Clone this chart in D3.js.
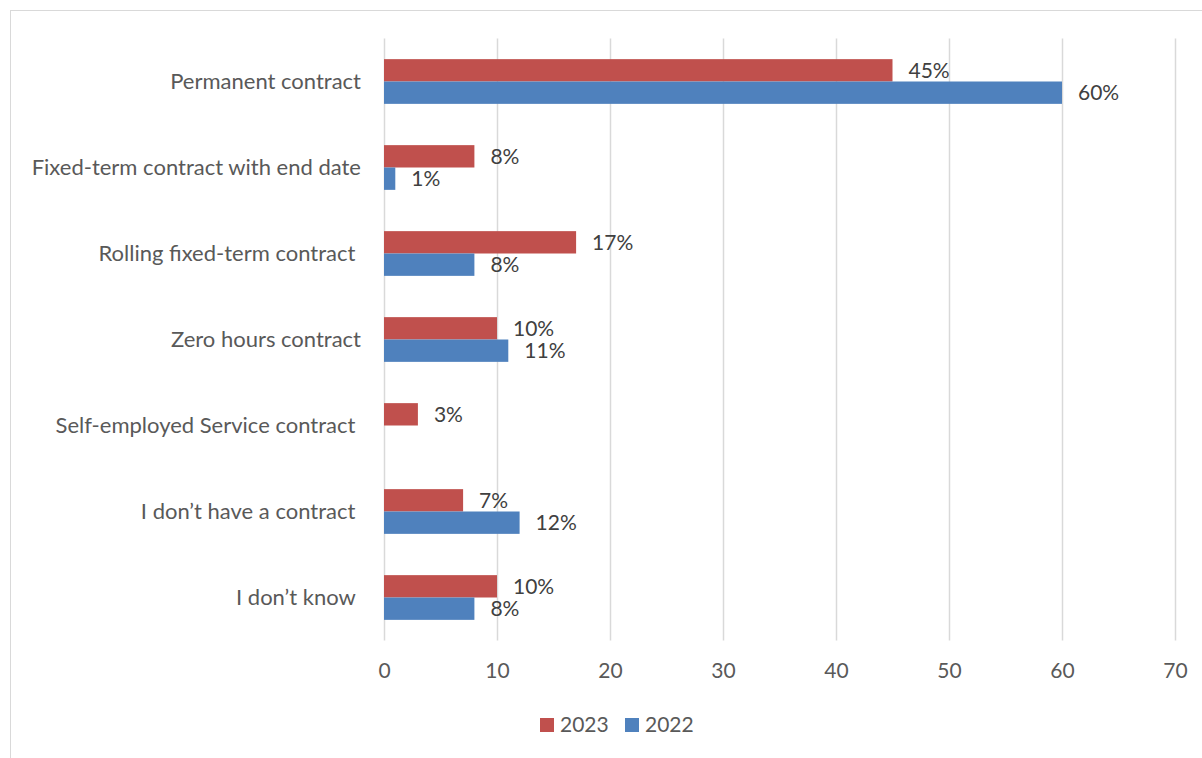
<!DOCTYPE html>
<html>
<head>
<meta charset="utf-8">
<script src="https://cdn.jsdelivr.net/npm/d3@7"></script>
<style>
  body { margin: 0; background: #fff; }
  text { font-family: Lato, "Open Sans", sans-serif; }
</style>
</head>
<body>
<div id="chart"></div>
<script>
// Data
var categories = [
    "Permanent contract",
    "Fixed-term contract with end date",
    "Rolling fixed-term contract ",
    "Zero hours contract",
    "Self-employed Service contract ",
    "I don\u2019t have a contract ",
    "I don\u2019t know "
];
var seriesNames = ["2023", "2022"];
var values2023 = [45, 8, 17, 10, 3, 7, 10];
var values2022 = [60, 1, 8, 11, null, 12, 8];
var tickValues = [0, 10, 20, 30, 40, 50, 60, 70];

var colors = {"2023": "#C0504D", "2022": "#4F81BD"};

// Sizes
var width = 1202, height = 758;
var plot = {left: 384, right: 1175, top: 38.5, bottom: 640.5};

var svg = d3.select("#chart")
    .append("svg")
        .attr("width", width)
        .attr("height", height);

// Outer border
svg.append("rect")
    .attr("x", 10.5)
    .attr("y", 10.5)
    .attr("width", 1200)
    .attr("height", 760)
    .attr("fill", "none")
    .attr("stroke", "#d9d9d9");

// Scales
var x = d3.scaleLinear()
    .domain([0, 70])
    .range([plot.left, plot.right]);

var y = d3.scaleBand()
    .domain(categories)
    .range([plot.top, plot.bottom])
    .paddingInner(0.48)
    .paddingOuter(0.24);

var y1 = d3.scaleBand()
    .domain(seriesNames)
    .range([0, y.bandwidth()]);

// Gridlines
svg.append("g")
    .selectAll("line")
    .data(tickValues)
    .join("line")
        .attr("x1", d => Math.round(x(d)) + 0.5)
        .attr("x2", d => Math.round(x(d)) + 0.5)
        .attr("y1", plot.top)
        .attr("y2", plot.bottom)
        .attr("stroke", "#d9d9d9")
        .attr("stroke-width", 1.5);

// X axis tick labels
var xAxis = svg.append("g")
    .attr("transform", "translate(0," + (plot.bottom + 23) + ")")
    .call(d3.axisBottom(x).tickValues(tickValues).tickSize(0).tickPadding(0));
xAxis.select(".domain").remove();
xAxis.selectAll("text")
    .attr("dy", "0.71em")
    .style("font-size", "21px")
    .attr("fill", "#595959");

// Y axis category labels
var yAxis = svg.append("g")
    .attr("transform", "translate(" + (plot.left - 23) + ",0)")
    .call(d3.axisLeft(y).tickSize(0).tickPadding(0));
yAxis.select(".domain").remove();
yAxis.selectAll("text")
    .style("font-size", "22px")
    .style("white-space", "pre")
    .attr("fill", "#595959");

// Bars
var rows = categories.map((c, i) => ({
    cat: c,
    items: [
        {key: "2023", value: values2023[i]},
        {key: "2022", value: values2022[i]}
    ].filter(d => d.value != null)
}));

var groups = svg.append("g")
    .selectAll("g")
    .data(rows)
    .join("g")
        .attr("transform", d => "translate(0," + y(d.cat) + ")");

groups.selectAll("rect")
    .data(d => d.items)
    .join("rect")
        .attr("x", x(0))
        .attr("y", d => y1(d.key))
        .attr("width", d => x(d.value) - x(0))
        .attr("height", y1.bandwidth())
        .attr("fill", d => colors[d.key]);

groups.selectAll("text")
    .data(d => d.items)
    .join("text")
        .attr("x", d => x(d.value) + 16)
        .attr("y", d => y1(d.key) + y1.bandwidth() / 2)
        .attr("dy", "0.35em")
        .style("font-size", "21px")
        .attr("fill", "#404040")
        .text(d => d.value + "%");

// Legend
var legend = svg.append("g")
    .selectAll("g")
    .data(seriesNames)
    .join("g")
        .attr("transform", (d, i) => "translate(" + (540 + i * 85) + ",718)");

legend.append("rect")
    .attr("width", 14)
    .attr("height", 14)
    .attr("fill", d => colors[d]);

legend.append("text")
    .attr("x", 20)
    .attr("y", 7)
    .attr("dy", "0.35em")
    .style("font-size", "21px")
    .attr("fill", "#595959")
    .text(d => d);
</script>
</body>
</html>
